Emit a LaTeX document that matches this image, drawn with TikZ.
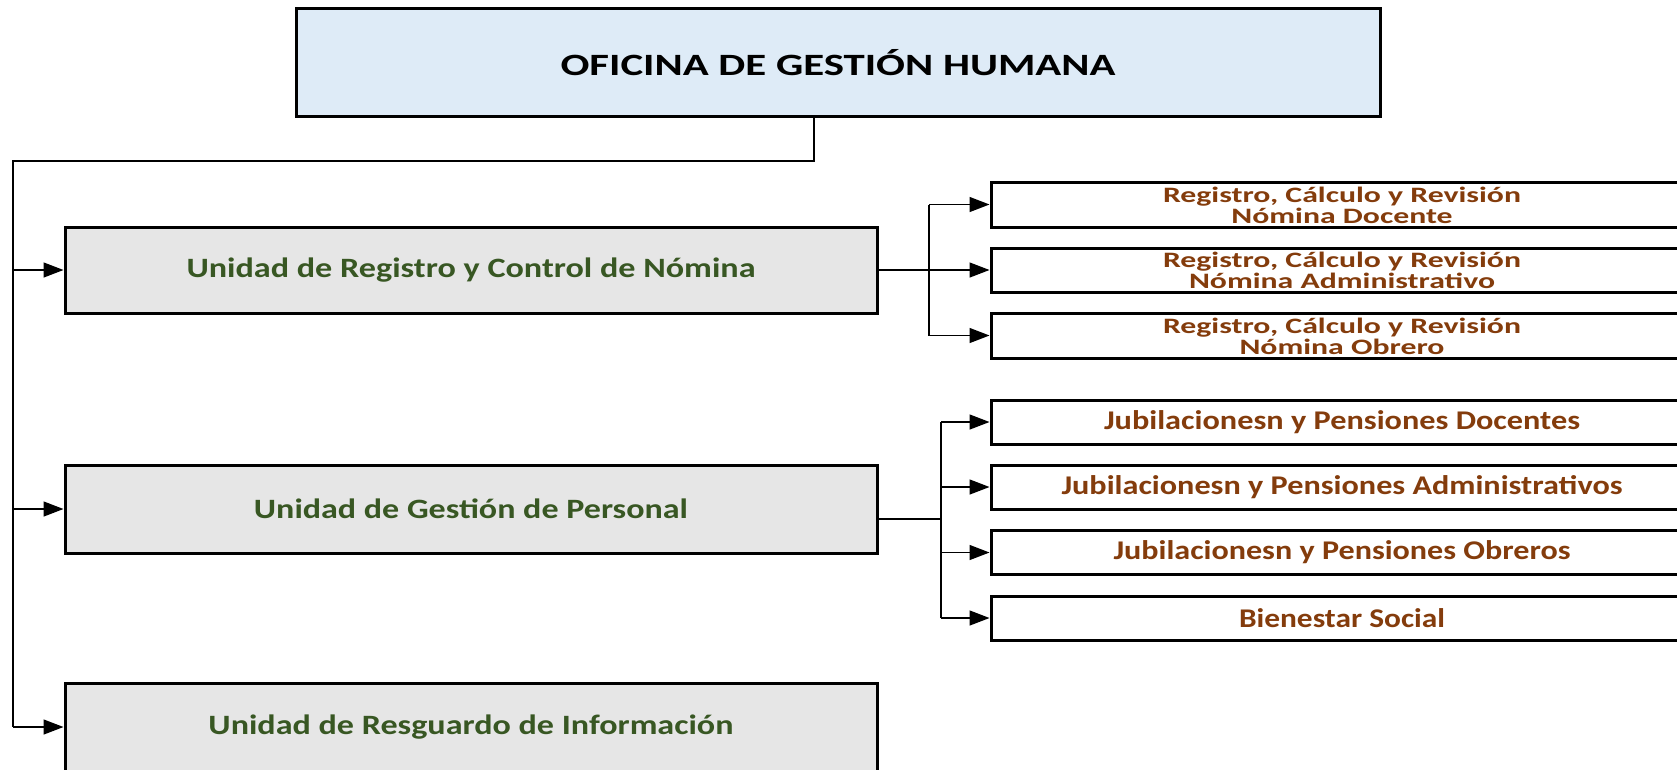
\documentclass[tikz,border=0pt]{standalone}
\usepackage{fontspec}
\usepackage{graphicx}
\setmainfont{Carlito}
\usetikzlibrary{arrows.meta}
\definecolor{titlefill}{RGB}{222,235,247}
\definecolor{unitfill}{RGB}{230,230,230}
\definecolor{unitgreen}{RGB}{56,87,35}
\definecolor{subbrown}{RGB}{132,60,12}
\newcommand{\hfit}[2]{\resizebox{#1}{\height}{#2}}
\newcommand{\twoline}[3]{\raisebox{2.5pt}[0pt][0pt]{\hfit{#1}{\begin{tabular}[t]{@{}c@{}}#2\\#3\end{tabular}}}}
\tikzset{
  topbox/.style={draw=black, line width=3pt, fill=titlefill, minimum width=1084pt, minimum height=108pt, inner sep=0pt,
    font=\fontsize{31}{34}\selectfont\bfseries, text=black},
  unitbox/.style={draw=black, line width=3pt, fill=unitfill, minimum width=812pt, minimum height=86pt, inner sep=0pt,
    font=\fontsize{28}{30}\selectfont\bfseries, text=unitgreen},
  subbox/.style={draw=black, line width=3pt, fill=white, minimum width=702pt, minimum height=44pt, inner sep=0pt,
    font=\fontsize{27}{28}\selectfont\bfseries, text=subbrown, align=center},
  regbox/.style={subbox, font=\fontsize{22}{20}\selectfont\bfseries},
  conn/.style={line width=1.4pt, draw=black},
  arr/.style={conn, -{Triangle[length=20pt,width=15pt]}}
}
\begin{document}
\begin{tikzpicture}[x=1pt,y=-1pt]
\useasboundingbox (0,0) rectangle (1677,769);
\clip (0,0) rectangle (1677,769);
% main boxes
\node[topbox] (top) at (838,62.6) {\hfit{555pt}{OFICINA DE GESTIÓN HUMANA}};
\node[unitbox] (u1) at (471,270) {\hfit{569pt}{Unidad de Registro y Control de Nómina}};
\node[unitbox, minimum height=88pt] (u2) at (471,509) {\hfit{434pt}{Unidad de Gestión de Personal}};
\node[unitbox, minimum height=88pt] (u3) at (471,727) {\hfit{525pt}{Unidad de Resguardo de Información}};
% sub boxes
\node[regbox, minimum height=45pt] (r1) at (1342,204.5) {\twoline{358pt}{Registro, Cálculo y Revisión}{Nómina Docente}};
\node[regbox] (r2) at (1342,270) {\twoline{358pt}{Registro, Cálculo y Revisión}{Nómina Administrativo}};
\node[regbox, minimum height=45pt] (r3) at (1342,335.5) {\twoline{358pt}{Registro, Cálculo y Revisión}{Nómina Obrero}};
\node[subbox] (j1) at (1342,422) {\hfit{476pt}{Jubilacionesn y Pensiones Docentes}};
\node[subbox] (j2) at (1342,487) {\hfit{561pt}{Jubilacionesn y Pensiones Administrativos}};
\node[subbox] (j3) at (1342,552.5) {\hfit{457pt}{Jubilacionesn y Pensiones Obreros}};
\node[subbox] (j4) at (1342,618) {\hfit{206pt}{Bienestar Social}};
% trunk
\coordinate (t1) at (814,161);
\coordinate (t0) at (13,161);
\draw[conn] (top.south -| t1) -- (t1) -- (t0) -- (t0 |- u3.west);
\draw[arr] (t0 |- u1.west) -- (u1.west);
\draw[arr] (t0 |- u2.west) -- (u2.west);
\draw[arr] (t0 |- u3.west) -- (u3.west);
% nomina bracket
\coordinate (b1) at (929,270);
\draw[conn] (b1 |- r1.west) -- (b1 |- r3.west);
\draw[arr] (u1.east) -- (r2.west);
\draw[arr] (b1 |- r1.west) -- (r1.west);
\draw[arr] (b1 |- r3.west) -- (r3.west);
% personal bracket
\coordinate (b2) at (941,519);
\draw[conn] (u2.east |- b2) -- (b2);
\draw[conn] (b2 |- j1.west) -- (b2 |- j4.west);
\draw[arr] (b2 |- j1.west) -- (j1.west);
\draw[arr] (b2 |- j2.west) -- (j2.west);
\draw[arr] (b2 |- j3.west) -- (j3.west);
\draw[arr] (b2 |- j4.west) -- (j4.west);
\end{tikzpicture}
\end{document}
